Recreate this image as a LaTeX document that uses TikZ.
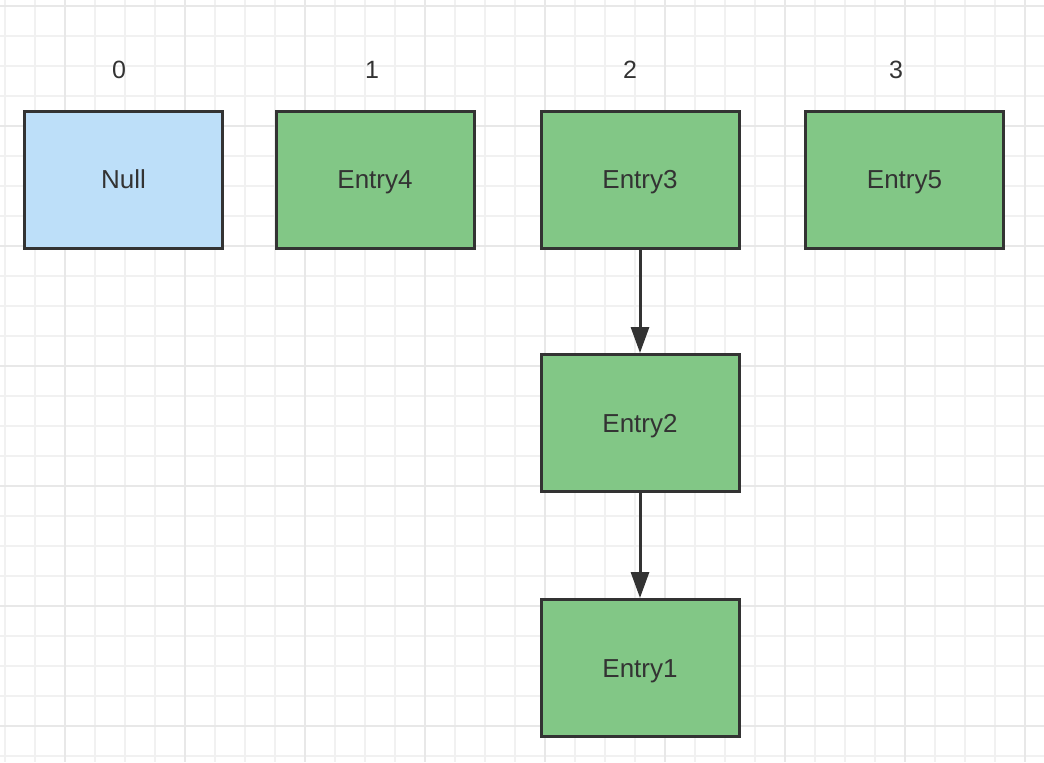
\documentclass[tikz,border=0pt]{standalone}
\usepackage{fontspec}
\setmainfont{Liberation Sans}
\usepackage{tikz}
\usetikzlibrary{arrows.meta, positioning}

\definecolor{gridminor}{HTML}{F1F1F1}
\definecolor{gridmajor}{HTML}{E8E8E8}
\definecolor{entrygreen}{HTML}{82C786}
\definecolor{nullblue}{HTML}{BDDFF9}
\definecolor{inkdark}{HTML}{333333}

\begin{document}
\begin{tikzpicture}[x=0.5pt, y=-0.5pt,
		bucket/.style={draw=inkdark, line width=1.5pt, minimum width=99pt, minimum height=68.5pt,
			inner sep=0pt, text height=9.2pt, text depth=0pt, text=inkdark,
			font=\fontsize{13pt}{15pt}\selectfont},
		entry/.style={bucket, fill=entrygreen},
		empty/.style={bucket, fill=nullblue},
		index/.style={text=inkdark, font=\fontsize{12.5pt}{15pt}\selectfont},
		link/.style={draw=inkdark, line width=1.5pt, -{Triangle[length=13pt, width=9pt]}}]
			\useasboundingbox (0,0) rectangle (1044,762);
			
			% Background grid
			\foreach \gx in {5,35,...,1044} \draw[gridminor, line width=0.6pt] (\gx,0) -- (\gx,762);
			\foreach \gy in {6,36,...,762} \draw[gridminor, line width=0.6pt] (0,\gy) -- (1044,\gy);
			\foreach \gx in {65,185,...,1044} \draw[gridmajor, line width=0.8pt] (\gx,0) -- (\gx,762);
			\foreach \gy in {6,126,...,762} \draw[gridmajor, line width=0.8pt] (0,\gy) -- (1044,\gy);
			
			% Indices
			\node[index] (i0) at (119,70) {0};
			\node[index] (i1) at (372,70) {1};
			\node[index] (i2) at (630,70) {2};
			\node[index] (i3) at (896,70) {3};
			
			% Table slots
			\node[empty] (null) at (123.5,179.5) {Null};
			\node[entry] (entry4) at (375,179.5) {Entry4};
			\node[entry] (entry3) at (640,179.5) {Entry3};
			\node[entry] (entry5) at (904.5,179.5) {Entry5};
			
			% Chain
			\node[entry] (entry2) at (640,423) {Entry2};
			\node[entry] (entry1) at (640,668) {Entry1};
			
			\draw[link] (entry3) -- (entry2);
			\draw[link] (entry2) -- (entry1);
		\end{tikzpicture}
\end{document}
